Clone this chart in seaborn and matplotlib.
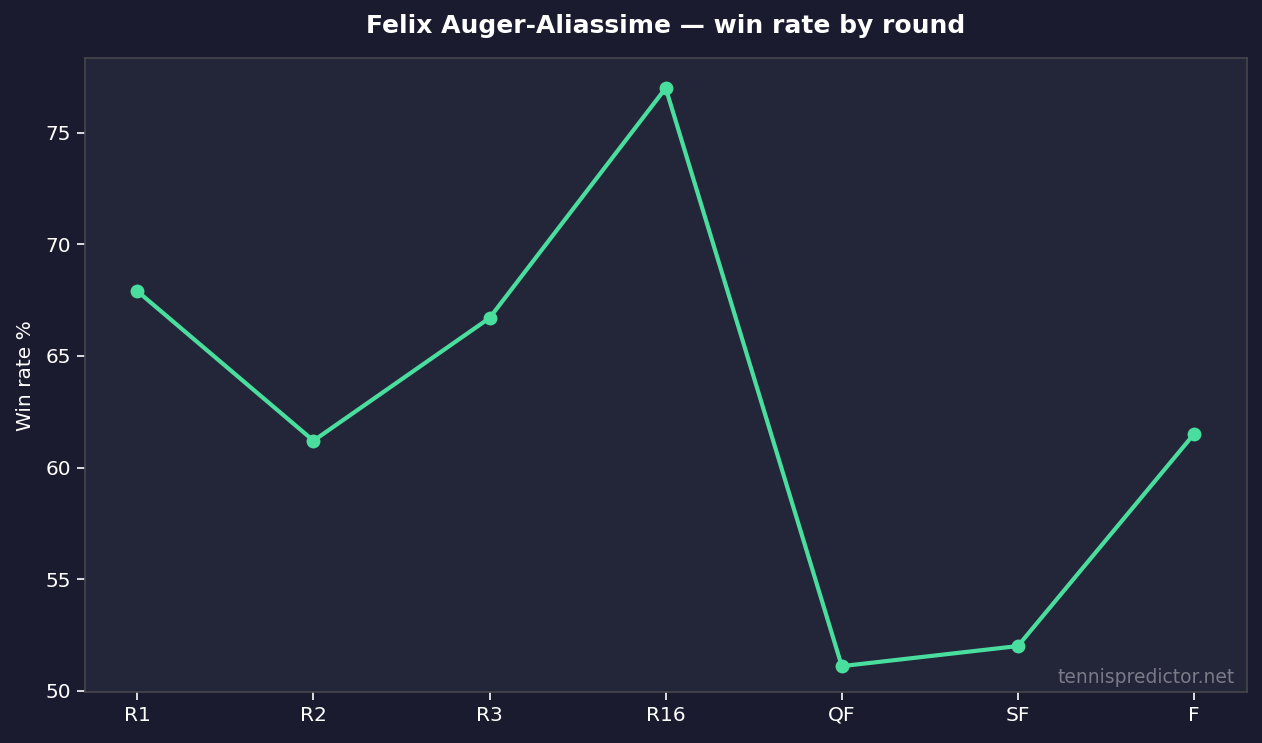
import matplotlib
matplotlib.use("Agg")
import matplotlib.pyplot as plt
import seaborn as sns
import pandas as pd

rounds = ["R1", "R2", "R3", "R16", "QF", "SF", "F"]
win_rate = [67.9, 61.2, 66.7, 77.0, 51.1, 52.0, 61.5]

FIG_BG = "#1a1b2e"
AX_BG = "#232538"
LINE = "#4ade9e"
SPINE = "#46464c"

sns.set_style("dark")
plt.rcParams['font.family'] = ['DejaVu Sans']

df = pd.DataFrame({"round": rounds, "win": win_rate})

fig, ax = plt.subplots(figsize=(12.62, 7.43), dpi=100)
fig.patch.set_facecolor(FIG_BG)
ax.set_facecolor(AX_BG)

sns.lineplot(data=df, x="round", y="win", ax=ax, color=LINE, linewidth=3.0,
             marker="o", markersize=10, markeredgewidth=0, sort=False)

ax.set_ylim(49.92, 78.35)
ax.set_xlim(-0.3, 6.3)
ax.set_xlabel("")
ax.set_ylabel("Win rate %", color="white", fontsize=14.5, labelpad=8)
ax.set_title("Felix Auger-Aliassime — win rate by round", color="white",
             fontsize=18, fontweight="bold", pad=18)
ax.tick_params(axis="both", colors="white", labelsize=14.5, length=6, width=1.2,
               left=True, bottom=True, direction="out")
ax.grid(False)
for s in ax.spines.values():
    s.set_visible(True)
    s.set_color(SPINE)
    s.set_linewidth(1.2)

ax.text(0.99, 0.008, "tennispredictor.net", transform=ax.transAxes,
        ha="right", va="bottom", color="#7a7a88", fontsize=13.5)

fig.subplots_adjust(left=0.067, right=0.988, top=0.922, bottom=0.068)
fig.savefig("out.png", dpi=100, facecolor=FIG_BG)
